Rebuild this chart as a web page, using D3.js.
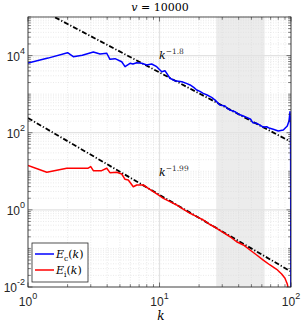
<!DOCTYPE html>
<html lang="en">
<head>
<meta charset="utf-8">
<title>Energy spectra</title>
<style>
body { margin: 0; background: #fff; }
.tick-label { font: 12px "Liberation Sans", Arial, sans-serif; fill: #262626; }
.math { font-family: "DejaVu Serif", "Liberation Serif", serif; fill: #000; }
</style>
</head>
<body>
<div id="chart"></div>
<script src="https://cdn.jsdelivr.net/npm/d3@7"></script>
<script>
// compressible spectrum E_c(k)
var kC = [1, 1.42, 2.0, 2.21, 2.59, 3.14, 3.53, 3.97, 4.2, 4.59, 5.16, 5.47, 5.97, 6.28, 6.71, 7.32, 8.0, 8.72, 9.52,
  10.4, 11.0, 12.0, 13.1, 14.8, 16.0, 17.1, 18.2, 19.2, 20.3, 21.5, 23.0, 24.9, 26.5, 28.8, 31.5, 33.0, 34.4, 37.5, 40.0,
  43.4, 46.0, 49.4, 51.2, 55.0, 58.1, 61.5, 65.3, 69.0, 73.3, 80.0, 87.4, 93.7, 96.5, 98.3, 99.3, 100];
var Ec = [6400, 8600, 11900, 9350, 10200, 12400, 11000, 11500, 8000, 8300, 6900, 5150, 6300, 6050, 6500, 6300, 5700, 6050, 5150,
  3820, 4050, 2580, 2230, 2100, 1900, 1730, 1500, 1280, 1180, 1050, 950, 828, 700, 523, 493, 420, 388, 351, 300,
  272, 250, 223, 182, 175, 158, 140, 143, 130, 123, 111, 118, 149, 200, 351, 150, 1e-4];

// incompressible spectrum E_i(k)
var kI = [1, 1.39, 1.97, 2.87, 3.0, 3.14, 3.63, 3.97, 4.2, 4.73, 5.16, 5.47, 5.79, 6.32, 6.71, 7.53, 8.22, 8.97, 9.79,
  10.7, 12.0, 13.5, 14.8, 17.1, 19.2, 21.5, 24.2, 27.2, 30.6, 34.4, 38.6, 43.4, 48.8, 54.8, 61.5, 69.2, 77.8, 84.9,
  90.0, 93.7, 96.5];
var Ei = [14.1, 9.4, 12.0, 12.0, 13.2, 10.4, 10.4, 12.0, 9.2, 9.4, 8.5, 6.2, 5.95, 3.98, 4.41, 4.41, 3.62, 2.96, 2.43,
  1.99, 1.63, 1.34, 1.10, 0.815, 0.665, 0.546, 0.417, 0.333, 0.256, 0.201, 0.149, 0.123, 0.091, 0.0676, 0.050, 0.0372, 0.0288, 0.0217,
  0.0168, 0.012, 0.0074];

// power-law guides, end points at k = 1 and k = 100
var fitK = [1, 100];
var fitC = [2.3e5, 57.8];
var fitI = [240, 0.0251];

var series = [
  { name: "c", k: kC, e: Ec, color: "#0000ff" },
  { name: "i", k: kI, e: Ei, color: "#ff0000" }
];

var shadeK = [27, 63];
var xMajor = [1, 10, 100];
var yMajor = [1e-2, 1, 1e2, 1e4];

var W = 302, H = 323;
var m = { left: 28, right: 291, top: 17, bottom: 287 };

var svg = d3.select("#chart").append("svg")
    .attr("width", W)
    .attr("height", H);

var x = d3.scaleLog().domain([1, 100]).range([m.left, m.right]);
var y = d3.scaleLog().domain([1e-2, 1e5]).range([m.bottom, m.top]);

svg.append("defs").append("clipPath").attr("id", "clip")
  .append("rect")
    .attr("x", m.left).attr("y", m.top)
    .attr("width", m.right - m.left).attr("height", m.bottom - m.top);

// shaded band
svg.append("rect")
    .attr("x", x(shadeK[0]))
    .attr("y", m.top)
    .attr("width", x(shadeK[1]) - x(shadeK[0]))
    .attr("height", m.bottom - m.top)
    .attr("fill", "#ececec");

// minor tick values
var xMinor = [], yMinor = [];
[1, 10].forEach(function(d) { for (var i = 2; i <= 9; i++) xMinor.push(d * i); });
for (var p = -2; p < 5; p++) {
  for (var i = 1; i <= 9; i++) {
    if (i == 1 && p % 2 == 0) continue;
    yMinor.push(i * Math.pow(10, p));
  }
}
yMinor.push(1e5);

// grid
var grid = svg.append("g");
grid.selectAll(".gxm").data(xMinor).enter().append("line")
    .attr("x1", function(d) { return x(d); }).attr("x2", function(d) { return x(d); })
    .attr("y1", m.top).attr("y2", m.bottom)
    .attr("stroke", "#dcdcdc").attr("stroke-width", 0.6).attr("stroke-dasharray", "1,1.5");
grid.selectAll(".gym").data(yMinor).enter().append("line")
    .attr("x1", m.left).attr("x2", m.right)
    .attr("y1", function(d) { return y(d); }).attr("y2", function(d) { return y(d); })
    .attr("stroke", "#dcdcdc").attr("stroke-width", 0.6).attr("stroke-dasharray", "1,1.5");
grid.selectAll(".gx").data(xMajor).enter().append("line")
    .attr("x1", function(d) { return x(d); }).attr("x2", function(d) { return x(d); })
    .attr("y1", m.top).attr("y2", m.bottom)
    .attr("stroke", "#e2e2e2").attr("stroke-width", 1.2);
grid.selectAll(".gy").data(yMajor).enter().append("line")
    .attr("x1", m.left).attr("x2", m.right)
    .attr("y1", function(d) { return y(d); }).attr("y2", function(d) { return y(d); })
    .attr("stroke", "#e2e2e2").attr("stroke-width", 1.2);

var line = d3.line()
    .x(function(d) { return x(d[0]); })
    .y(function(d) { return y(d[1]); });

var plot = svg.append("g").attr("clip-path", "url(#clip)");

// dash-dot guides
[fitC, fitI].forEach(function(f) {
  plot.append("path")
      .datum(d3.zip(fitK, f))
      .attr("d", line)
      .attr("fill", "none")
      .attr("stroke", "#000")
      .attr("stroke-width", 1.8)
      .attr("stroke-dasharray", "5,2,1.2,2");
});

series.forEach(function(s) {
  plot.append("path")
      .datum(d3.zip(s.k, s.e))
      .attr("d", line)
      .attr("fill", "none")
      .attr("stroke", s.color)
      .attr("stroke-width", 1.5)
      .attr("stroke-linejoin", "round");
});

// axes box with inward ticks
var axisColor = "#262626";
svg.append("rect")
    .attr("x", m.left).attr("y", m.top)
    .attr("width", m.right - m.left).attr("height", m.bottom - m.top)
    .attr("fill", "none").attr("stroke", axisColor).attr("stroke-width", 0.8);

var ticks = svg.append("g").attr("stroke", axisColor).attr("stroke-width", 0.6);
function xTicks(vals, len) {
  vals.forEach(function(d) {
    ticks.append("line").attr("x1", x(d)).attr("x2", x(d)).attr("y1", m.bottom).attr("y2", m.bottom - len);
    ticks.append("line").attr("x1", x(d)).attr("x2", x(d)).attr("y1", m.top).attr("y2", m.top + len);
  });
}
function yTicks(vals, len) {
  vals.forEach(function(d) {
    ticks.append("line").attr("y1", y(d)).attr("y2", y(d)).attr("x1", m.left).attr("x2", m.left + len);
    ticks.append("line").attr("y1", y(d)).attr("y2", y(d)).attr("x1", m.right).attr("x2", m.right - len);
  });
}
xTicks(xMajor, 4.5);
xTicks(xMinor, 2.8);
yTicks(yMajor, 4.5);
yTicks(yMinor, 2.8);

// tick labels
function exponent(v) { return Math.round(Math.log10(v)); }
xMajor.forEach(function(d) {
  var t = svg.append("text").attr("class", "tick-label")
      .attr("x", x(d)).attr("y", 306).attr("text-anchor", "middle");
  t.append("tspan").text("10");
  t.append("tspan").attr("dy", -7).attr("font-size", "9px").text(exponent(d));
});
yMajor.forEach(function(d) {
  var t = svg.append("text").attr("class", "tick-label")
      .attr("x", 25).attr("y", y(d) + 5).attr("text-anchor", "end");
  t.append("tspan").text("10");
  t.append("tspan").attr("dy", -7).attr("font-size", "9px").text(exponent(d));
});

// title
var title = svg.append("text").attr("class", "math")
    .attr("x", 160).attr("y", 11).attr("text-anchor", "middle").attr("font-size", "11px");
title.append("tspan").attr("font-style", "italic").text("v");
title.append("tspan").text(" = 10000");

// x label
svg.append("text").attr("class", "math")
    .attr("x", 161).attr("y", 320).attr("text-anchor", "middle")
    .attr("font-size", "12px").attr("font-style", "italic").text("k");

// slope annotations
function slopeLabel(xp, yp, txt) {
  var t = svg.append("text").attr("class", "math").attr("x", xp).attr("y", yp).attr("font-size", "11px");
  t.append("tspan").attr("font-style", "italic").text("k");
  t.append("tspan").attr("dy", -5).attr("font-size", "7.5px").attr("fill", "#333").text(txt);
}
slopeLabel(159, 59, "\u22121.8");
slopeLabel(159, 176, "\u22121.99");

// legend
var lg = svg.append("g");
lg.append("rect")
    .attr("x", 32).attr("y", 243).attr("width", 56).attr("height", 39)
    .attr("fill", "#fff").attr("stroke", axisColor).attr("stroke-width", 0.8);
series.forEach(function(s, i) {
  var yy = 254 + i * 16;
  lg.append("line").attr("x1", 35).attr("x2", 54).attr("y1", yy).attr("y2", yy)
      .attr("stroke", s.color).attr("stroke-width", 1.5);
  var t = lg.append("text").attr("class", "math").attr("x", 56).attr("y", yy + 4).attr("font-size", "11px");
  t.append("tspan").attr("font-style", "italic").text("E");
  t.append("tspan").attr("dy", 2.5).attr("font-size", "7.5px").text(s.name);
  t.append("tspan").attr("dy", -2.5).text("(");
  t.append("tspan").attr("font-style", "italic").text("k");
  t.append("tspan").text(")");
});
</script>
</body>
</html>
